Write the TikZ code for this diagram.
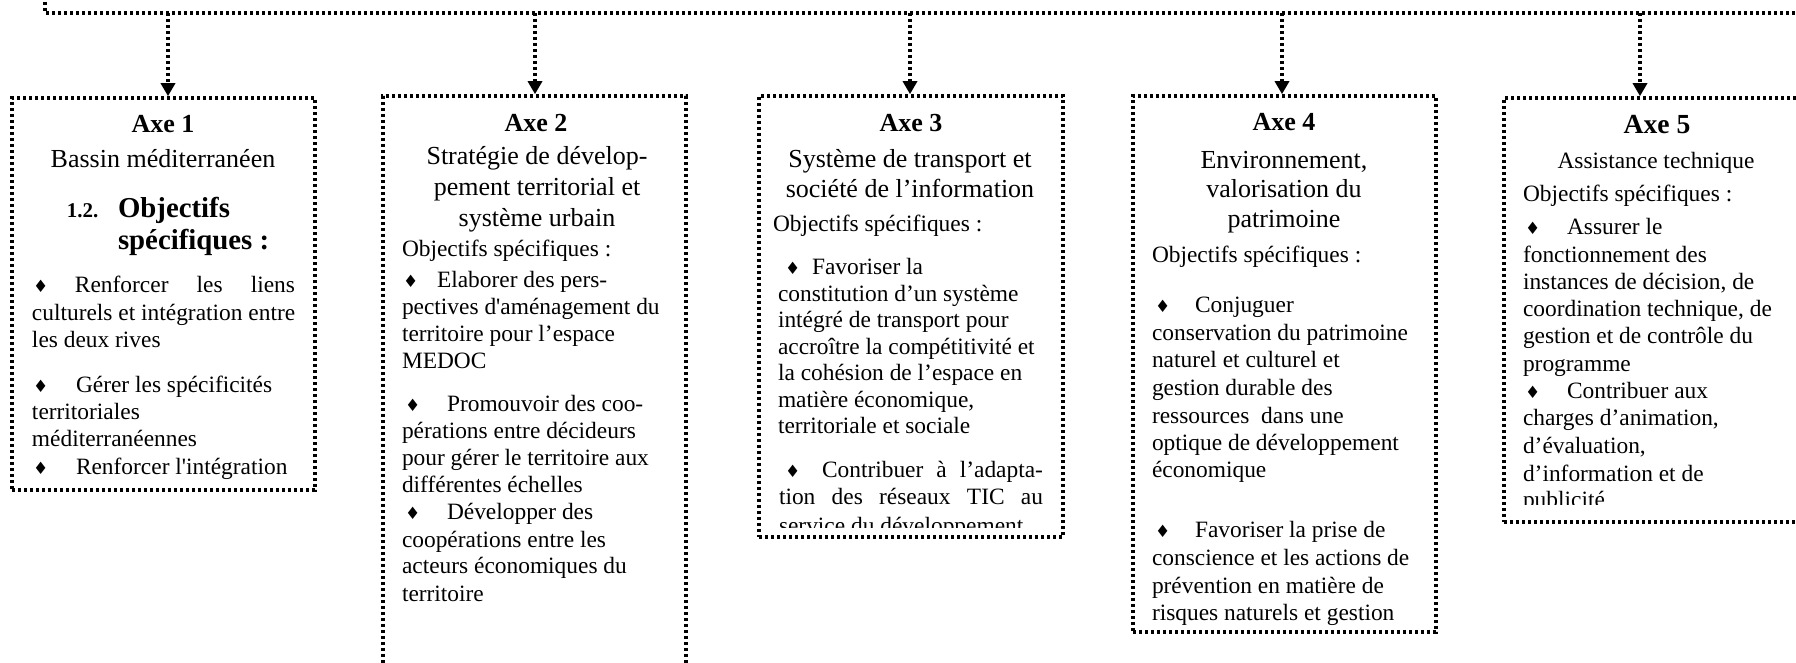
\documentclass[tikz,border=0pt]{standalone}
\usepackage{fontspec}
\setmainfont{Liberation Serif}
\newfontfamily\symf{DejaVu Sans}
\usetikzlibrary{arrows.meta}
\tikzset{
  dl/.style={line width=1.8pt, dash pattern=on 1.7pt off 1.3pt},
  boxst/.style={draw, dl, rectangle, inner sep=0pt},
  arr/.style={-{Triangle[width=7pt,length=6.5pt]}},
  txt/.style={inner sep=0pt, outer sep=0pt, font=\fontsize{11.7}{13.5}\selectfont},
  ttl/.style={inner sep=0pt, outer sep=0pt, font=\fontsize{13}{15}\selectfont},
  ttls/.style={inner sep=0pt, outer sep=0pt, font=\fontsize{11.7}{13.5}\selectfont},
  axe/.style={inner sep=0pt, outer sep=0pt, font=\bfseries\fontsize{13}{15}\selectfont},
  axeb/.style={inner sep=0pt, outer sep=0pt, font=\bfseries\fontsize{13.8}{15}\selectfont},
  obj/.style={inner sep=0pt, outer sep=0pt, font=\bfseries\fontsize{14.4}{16}\selectfont},
  num/.style={inner sep=0pt, outer sep=0pt, font=\bfseries\fontsize{10.5}{12}\selectfont},
  bul/.style={inner sep=0pt, outer sep=0pt, font=\symf\fontsize{8.5}{9}\selectfont},
}
\newcounter{lc}
\newcommand\Lw[3][txt]{\stepcounter{lc}\node[#1,anchor=base west] (t\thelc) at (#2) {#3};}
\newcommand\Lc[3][ttl]{\stepcounter{lc}\node[#1,anchor=base] (t\thelc) at (#2) {#3};}
\newcommand\Lj[3]{\stepcounter{lc}\node[txt,anchor=base west] (t\thelc) at (#1) {\makebox[#2][s]{#3}};}
\newcommand\Bu[1]{\stepcounter{lc}\node[bul,anchor=base west] (t\thelc) at (#1) {♦};}
\begin{document}
\begin{tikzpicture}[x=0.5pt,y=-0.5pt]
\clip (0,0) rectangle (1796,663);
\fill[white] (0,0) rectangle (1796,663);
% boxes
\node[boxst, minimum width=151.5pt, minimum height=196pt] (b1) at (163.5,294) {};
\node[boxst, minimum width=151.5pt, minimum height=312pt] (b2) at (534.5,408) {};
\node[boxst, minimum width=152pt, minimum height=220.5pt] (b3) at (911,316.5) {};
\node[boxst, minimum width=151.5pt, minimum height=268pt] (b4) at (1284.5,364) {};
\node[boxst, minimum width=153pt, minimum height=212pt] (b5) at (1657,310) {};
% top line and arrows
\coordinate (s0) at (45,-10);
\coordinate (s1) at (45,13);
\coordinate (s2) at (1815,13);
\draw[dl] (s0) -- (s1) -- (s2);
\coordinate (a1) at (168,13);
\coordinate (a2) at (535,13);
\coordinate (a3) at (910,13);
\coordinate (a4) at (1282,13);
\coordinate (a5) at (1640,13);
\draw[dl,arr] (a1) -- (a1 |- b1.north);
\draw[dl,arr] (a2) -- (a2 |- b2.north);
\draw[dl,arr] (a3) -- (a3 |- b3.north);
\draw[dl,arr] (a4) -- (a4 |- b4.north);
\draw[dl,arr] (a5) -- (a5 |- b5.north);
% ---------- Box 1
\Lc[axe]{163,133}{Axe 1}
\Lc{163,168}{Bassin méditerranéen}
\Lw[num]{67,218}{1.2.}
\Lw[obj]{118,218}{Objectifs}
\Lw[obj]{118,250}{spécifiques :}
\Bu{33,293}
\Lj{75,293}{110pt}{Renforcer les liens}
\Lw{32,321}{culturels et intégration entre}
\Lw{32,348}{les deux rives}
\Bu{33,393}
\Lw{76,393}{Gérer les spécificités}
\Lw{32,420}{territoriales}
\Lw{32,447}{méditerranéennes}
\Bu{33,475}
\Lw{76,475}{Renforcer l\textquotesingle intégration}
% ---------- Box 2
\Lc[axe]{536,132}{Axe 2}
\Lc{537,165}{Stratégie de dévelop-}
\Lc{537,196}{pement territorial et}
\Lc{537,227}{système urbain}
\Lw{402,257}{Objectifs spécifiques :}
\Bu{403,288}
\Lw{437,288}{Elaborer des pers-}
\Lw{402,315}{pectives d\textquotesingle aménagement du}
\Lw{402,342}{territoire pour l’espace}
\Lw{402,369}{MEDOC}
\Bu{405,412}
\Lw{447,412}{Promouvoir des coo-}
\Lw{402,439}{pérations entre décideurs}
\Lw{402,466}{pour gérer le territoire aux}
\Lw{402,493}{différentes échelles}
\Bu{405,520}
\Lw{447,520}{Développer des}
\Lw{402,547}{coopérations entre les}
\Lw{402,574}{acteurs économiques du}
\Lw{402,601}{territoire}
% ---------- Box 3
\Lc[axe]{911,132}{Axe 3}
\Lc{910,168}{Système de transport et}
\Lc{910,198}{société de l’information}
\Lw{773,232}{Objectifs spécifiques :}
\Bu{785,275}
\Lw{812,275}{Favoriser la}
\Lw{778,301.5}{constitution d’un système}
\Lw{778,328}{intégré de transport pour}
\Lw{778,354.5}{accroître la compétitivité et}
\Lw{778,381}{la cohésion de l’espace en}
\Lw{778,407.5}{matière économique,}
\Lw{778,434}{territoriale et sociale}
\Bu{785,478}
\Lj{822,478}{110.5pt}{Contribuer à l’adapta-}
\Lj{779,505}{132pt}{tion des réseaux TIC au}
\begin{scope}
\clip (760,500) rectangle (1062,528);
\Lw{779,533}{service du développement}
\end{scope}
% ---------- Box 4
\Lc[axe]{1284,131}{Axe 4}
\Lc{1284,169}{Environnement,}
\Lc{1284,198}{valorisation du}
\Lc{1284,228}{patrimoine}
\Lw{1152,263}{Objectifs spécifiques :}
\Bu{1155,313}
\Lw{1195,313}{Conjuguer}
\Lw{1152,340.5}{conservation du patrimoine}
\Lw{1152,368}{naturel et culturel et}
\Lw{1152,395.5}{gestion durable des}
\Lw{1152,423}{ressources\ \ dans une}
\Lw{1152,450.5}{optique de développement}
\Lw{1152,478}{économique}
\Bu{1155,538}
\Lw{1195,538}{Favoriser la prise de}
\Lw{1152,565.5}{conscience et les actions de}
\Lw{1152,593}{prévention en matière de}
\Lw{1152,620.5}{risques naturels et gestion}
% ---------- Box 5
\Lc[axeb]{1657,134}{Axe 5}
\Lc[ttls]{1656,169}{Assistance technique}
\Lw{1523,202}{Objectifs spécifiques :}
\Bu{1525,235}
\Lw{1567,235}{Assurer le}
\Lw{1523,262.5}{fonctionnement des}
\Lw{1523,290}{instances de décision, de}
\Lw{1523,317}{coordination technique, de}
\Lw{1523,344}{gestion et de contrôle du}
\Lw{1523,371.5}{programme}
\Bu{1525,399}
\Lw{1567,399}{Contribuer aux}
\Lw{1523,426}{charges d’animation,}
\Lw{1523,453.5}{d’évaluation,}
\Lw{1523,481}{d’information et de}
\begin{scope}
\clip (1505,490) rectangle (1796,505);
\Lw{1523,508}{publicité}
\end{scope}
\end{tikzpicture}
\end{document}
